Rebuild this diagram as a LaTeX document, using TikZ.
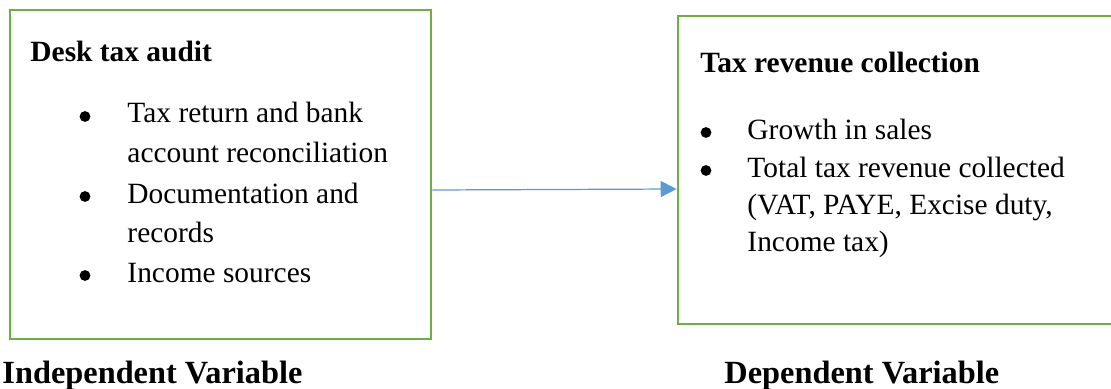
\documentclass[tikz,border=0pt]{standalone}
\usepackage{fontspec}
\setmainfont{Liberation Serif}
\usepackage{tikz}
\usetikzlibrary{arrows.meta}

\definecolor{boxgreen}{HTML}{70AD47}
\definecolor{arrowblue}{HTML}{5B9BD5}

\tikzset{
  varbox/.style={draw=boxgreen, line width=1.1pt, rectangle, inner sep=0pt},
  txt/.style={anchor=base west, inner sep=0pt, font=\fontsize{12pt}{15pt}\selectfont},
  head/.style={txt, font=\fontsize{12pt}{15pt}\selectfont\bfseries},
  varlabel/.style={txt, font=\fontsize{13.2pt}{16pt}\selectfont\bfseries},
  dot/.style={circle, fill=black, inner sep=0pt, minimum size=4.4pt},
  link/.style={draw=arrowblue, line width=0.5pt, -{Triangle[length=6.5pt, width=6.5pt]}}
}

\begin{document}
\begin{tikzpicture}[x=0.408pt, y=-0.408pt]
\useasboundingbox (0,0) rectangle (1111,389);
\clip (0,0) rectangle (1111,389);

% boxes
\node[varbox, minimum width=421*0.408pt, minimum height=329*0.408pt] (indep) at (220.5,174.5) {};
\node[varbox, minimum width=450*0.408pt, minimum height=308*0.408pt] (dep) at (903,170) {};

% left box text
\node[head] (indeptitle) at (30,62) {Desk tax audit};
\node[dot] (ib1) at (85,116.5) {};
\node[txt] (it1) at (127,123) {Tax return and bank};
\node[txt] (it1b) at (127,162) {account reconciliation};
\node[dot] (ib2) at (85,196.5) {};
\node[txt] (it2) at (127,203) {Documentation and};
\node[txt] (it2b) at (127,242) {records};
\node[dot] (ib3) at (85,275.5) {};
\node[txt] (it3) at (127,282) {Income sources};

% right box text
\node[head] (deptitle) at (700,73) {Tax revenue collection};
\node[dot] (db1) at (706,132.5) {};
\node[txt] (dt1) at (747,140) {Growth in sales};
\node[dot] (db2) at (706,170.5) {};
\node[txt] (dt2) at (747,178) {Total tax revenue collected};
\node[txt] (dt2b) at (747,215) {(VAT, PAYE, Excise duty,};
\node[txt] (dt2c) at (747,252) {Income tax)};

% labels under the boxes
\node[varlabel] (indeplabel) at (2,383) {Independent Variable};
\node[varlabel] (deplabel) at (724,383) {Dependent Variable};

% connector
\draw[link] ([shift={(0,15.5)}]indep.east) -- ([shift={(0,19)}]dep.west);
\end{tikzpicture}
\end{document}
